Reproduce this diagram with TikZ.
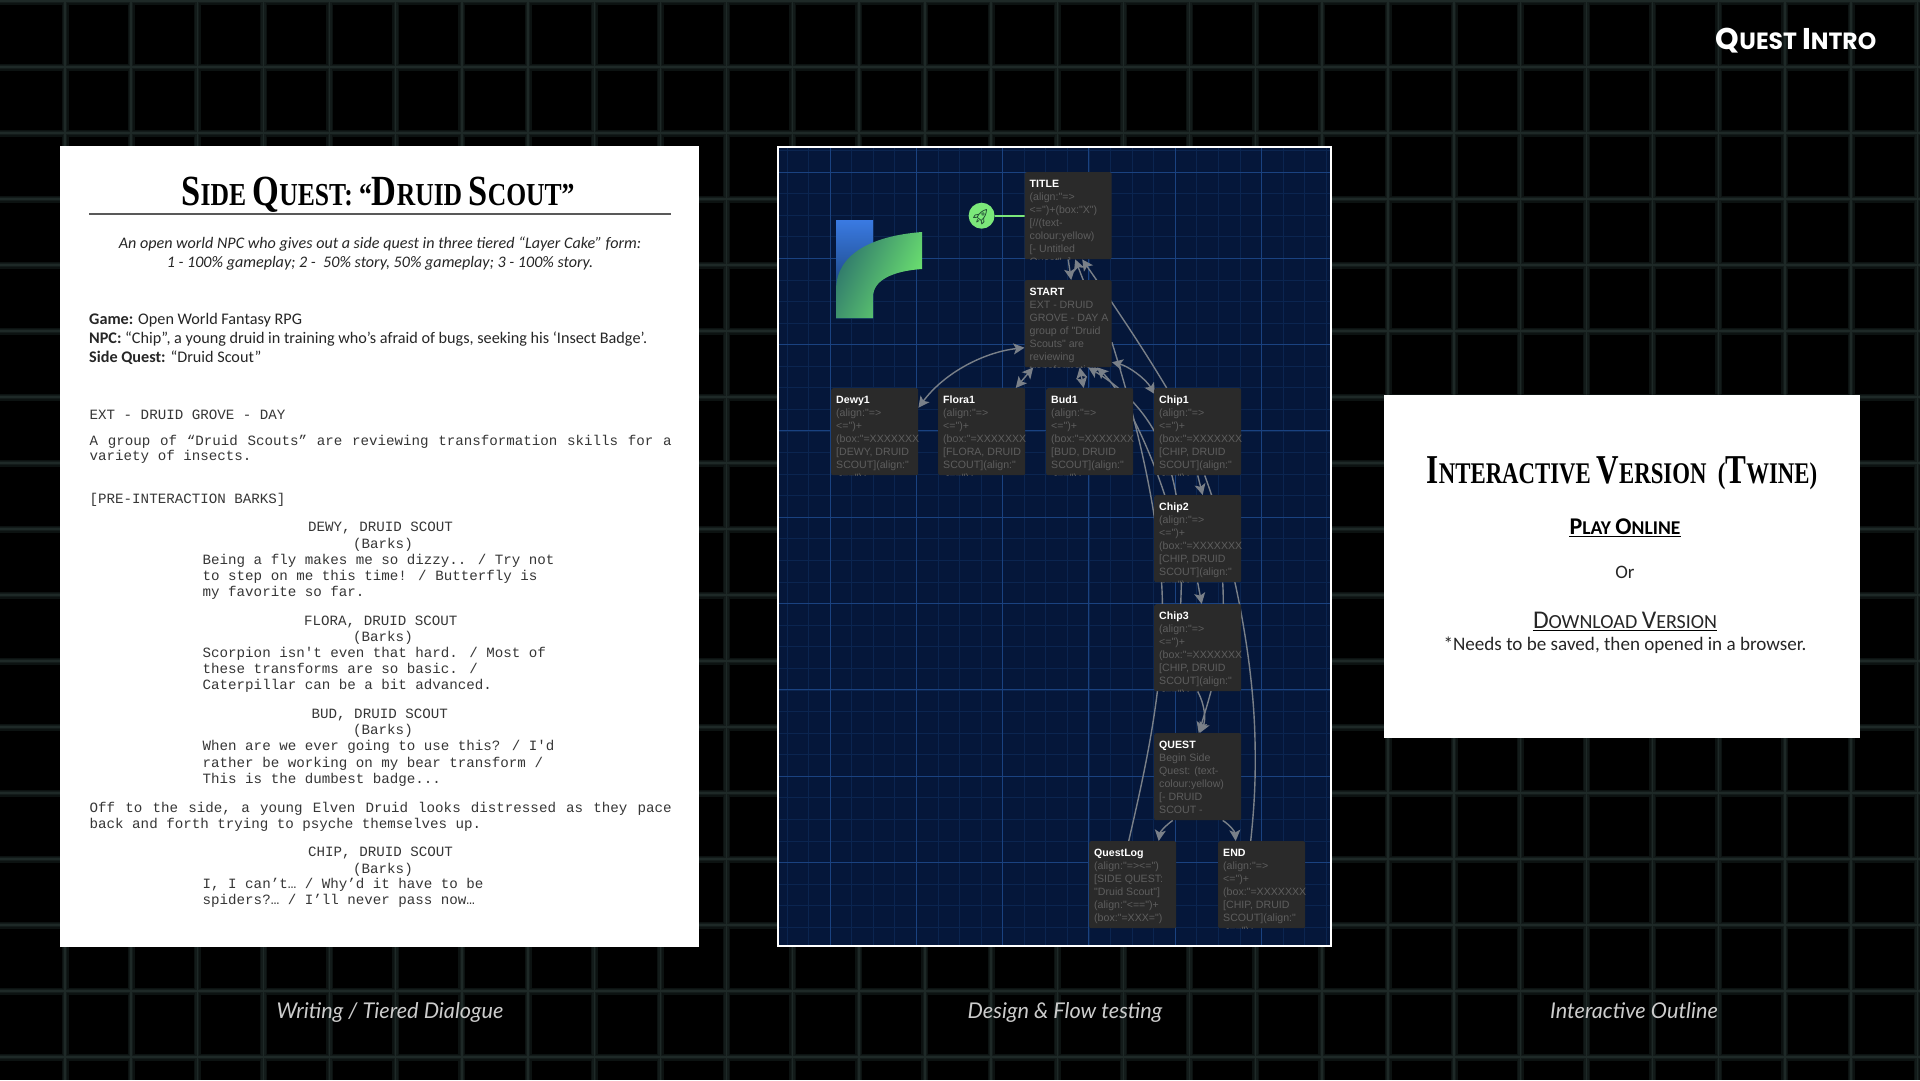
\documentclass[tikz,border=0pt]{standalone}
\usepackage{fontspec}
\usepackage{graphicx}
\usetikzlibrary{arrows.meta,calc,backgrounds}
\newfontfamily\monof{Liberation Mono}
\newfontfamily\uif{Liberation Sans}
\newfontfamily\serf{Liberation Serif}
\newfontfamily\humf{Carlito}
\newfontfamily\capf{Lato}
\newfontfamily\headf{Poppins}
\definecolor{navy}{HTML}{05173A}
\definecolor{gmajor}{HTML}{1A4280}
\definecolor{gminor}{HTML}{0B2550}
\definecolor{pbox}{HTML}{2A2A2A}
\definecolor{ptext}{HTML}{5E5E5E}
\definecolor{conn}{HTML}{7A8088}
\definecolor{mint}{HTML}{7BE87A}
\definecolor{inkg}{HTML}{363636}
\definecolor{logoA}{HTML}{3A7AE2}
\definecolor{logoB}{HTML}{10325C}
\definecolor{logoC}{HTML}{2E766C}
\definecolor{logoD}{HTML}{70E870}
\definecolor{rocketc}{HTML}{265438}
\definecolor{capc}{HTML}{CCCCCC}
\newcount\lncount
\newcommand\ml[3]{\global\advance\lncount by 1
  \node[monoline] (l\the\lncount) at (#1,#2) {#3};}
\newcommand\mlj[3]{\global\advance\lncount by 1
  \node[monoline] (l\the\lncount) at (#1,#2) {\spaceskip=8.5pt plus 6pt\makebox[582pt][s]{#3}};}
\newcommand\passage[5]{%
  \node[passagebox,anchor=north west] (#1) at (#2,#3) {};
  \begin{scope}
    \clip[rounded corners=2pt] (#1.south west) rectangle (#1.north east);
    \node[passagetext,anchor=north west] (#1t) at ($(#1.north west)+(5,7.5)$)
      {{\color{white}\bfseries #4}\\#5};
  \end{scope}}
\newcommand\pin[3]{($(#1)+(#2,#3)$)}
\newcommand\BC[1]{{\fontsize{43}{43}\selectfont #1}}
\newcommand\BD[1]{{\fontsize{41}{41}\selectfont #1}}
\newcommand\BP[1]{{\fontsize{24}{24}\selectfont #1}}
\newcommand\BQ[1]{{\fontsize{30}{30}\selectfont #1}}
\tikzset{
  monoline/.style={anchor=base west,inner sep=0pt,text=inkg,font=\monof\fontsize{14.18}{16}\selectfont},
  passagebox/.style={fill=pbox,rounded corners=2pt,minimum width=87pt,minimum height=87pt,inner sep=0pt},
  passagetext/.style={inner sep=0pt,align=left,text=ptext,font=\uif\fontsize{10.6}{13}\selectfont},
  flow/.style={draw=conn,line width=1.4pt},
  tip/.style={flow,-{Stealth[length=11pt,width=11pt,inset=2.5pt]}},
  tips/.style={flow,{Stealth[length=11pt,width=11pt,inset=2.5pt]}-{Stealth[length=11pt,width=11pt,inset=2.5pt]}},
  captiontext/.style={anchor=base,inner sep=0pt,text=capc,font=\capf\itshape\fontsize{21.7}{24}\selectfont},
  hum/.style={anchor=base west,inner sep=0pt,text=black!85,font=\humf\fontsize{16.2}{20}\selectfont},
  humc/.style={anchor=base,inner sep=0pt,text=black!85,font=\humf\itshape\fontsize{16.1}{20}\selectfont},
  fancy/.style={anchor=base,inner sep=0pt,text=black,font=\serf\bfseries},
  rk/.style={draw=rocketc,line width=.8pt,line join=round},
}
\pgfdeclarelayer{under}
\pgfsetlayers{under,main}
\begin{document}
\begin{tikzpicture}[x=1pt,y=-1pt]
\useasboundingbox (0,0) rectangle (1920,1080);
\begin{pgfonlayer}{under}
  \fill[black] (0,0) rectangle (1920,1080);
  \foreach \c/\w in {0C1211/7,131B1A/4.2,1E2927/1.4}{
    \definecolor{gl}{HTML}{\c}
    \foreach \k in {0,...,28}{
      \pgfmathsetmacro\gx{65+66.15*\k}
      \draw[gl,line width=\w pt] (\gx,0) -- (\gx,1080);
    }
    \foreach \k in {-1,0,...,15}{
      \pgfmathsetmacro\gy{67+66*\k}
      \draw[gl,line width=\w pt] (0,\gy) -- (1920,\gy);
    }
  }
  % panels
  \fill[white] (60,146) rectangle (699,947);
  \fill[white] (1384,395) rectangle (1860,738);
  \fill[white] (777,146) rectangle (1332,947);
  \fill[navy] (779,148) rectangle (1330,945);
  \begin{scope}
    \clip (779,148) rectangle (1330,945);
    \foreach \k in {-2,...,26}{
      \pgfmathsetmacro\mx{830+21.575*\k}
      \draw[gminor,line width=.6pt] (\mx,148) -- (\mx,945);
    }
    \foreach \k in {-1,...,36}{
      \pgfmathsetmacro\my{172+21.575*\k}
      \draw[gminor,line width=.6pt] (779,\my) -- (1330,\my);
    }
    \foreach \k in {-1,...,6}{
      \pgfmathsetmacro\mx{830+86.3*\k}
      \draw[gmajor,line width=1pt] (\mx,148) -- (\mx,945);
    }
    \foreach \k in {0,...,9}{
      \pgfmathsetmacro\my{172+86.3*\k}
      \draw[gmajor,line width=1pt] (779,\my) -- (1330,\my);
    }
    % logo
    \shade[top color=logoA,bottom color=logoB] (836,220) rectangle (873,318);
    \shade[left color=logoC,right color=logoD,shading angle=65]
      (836,318) -- (836,290) .. controls (836,255) and (870,236) .. (922,232) -- (922,269) .. controls (893,271) and (873,280) .. (873,297) -- (873,318) -- cycle;
  \end{scope}
\end{pgfonlayer}

% ---------- left sheet
\node[fancy,font=\serf\bfseries\fontsize{32}{36}\selectfont] (sqtitle) at (378,205) {\scalebox{.8}[1]{\BC{S}IDE \BC{Q}UEST: “\BC{D}RUID \BC{S}COUT”}};
\coordinate (rl) at (89,214);
\coordinate (rr) at (671,214);
\draw[black!65,line width=1.4pt] (rl) -- (rr);
\node[humc] (sub1) at (380,248) {An open world NPC who gives out a side quest in three tiered “Layer Cake” form:};
\node[humc] (sub2) at (380,267) {1 - 100\% gameplay; 2 -\ \ 50\% story, 50\% gameplay; 3 - 100\% story.};
\node[hum] (g1) at (89,324) {\textbf{Game:} Open World Fantasy RPG};
\node[hum] (g2) at (89,343) {\textbf{NPC:} “Chip”, a young druid in training who’s afraid of bugs, seeking his ‘Insect Badge’.};
\node[hum] (g3) at (89,362) {\textbf{Side Quest:} “Druid Scout”};
\ml{89.5}{419}{EXT - DRUID GROVE - DAY}
\mlj{89.5}{445}{A group of “Druid Scouts” are reviewing transformation skills for a}
\ml{89.5}{460}{variety of insects.}
\ml{89.5}{503}{[PRE-INTERACTION BARKS]}
\ml{308}{531}{DEWY, DRUID SCOUT}
\ml{353}{548}{(Barks)}
\ml{202.5}{564}{Being a fly makes me so dizzy.. / Try not}
\ml{202.5}{580}{to step on me this time! / Butterfly is}
\ml{202.5}{596}{my favorite so far.}
\ml{304}{625}{FLORA, DRUID SCOUT}
\ml{353}{641}{(Barks)}
\ml{202.5}{657}{Scorpion isn't even that hard. / Most of}
\ml{202.5}{673}{these transforms are so basic. /}
\ml{202.5}{689}{Caterpillar can be a bit advanced.}
\ml{311.5}{718}{BUD, DRUID SCOUT}
\ml{353}{734}{(Barks)}
\ml{202.5}{750}{When are we ever going to use this? / I'd}
\ml{202.5}{767}{rather be working on my bear transform /}
\ml{202.5}{783}{This is the dumbest badge...}
\mlj{89.5}{812}{Off to the side, a young Elven Druid looks distressed as they pace}
\ml{89.5}{828}{back and forth trying to psyche themselves up.}
\ml{308}{856}{CHIP, DRUID SCOUT}
\ml{353}{873}{(Barks)}
\ml{202.5}{888}{I, I can’t… / Why’d it have to be}
\ml{202.5}{904}{spiders?… / I’ll never pass now…}

% ---------- passages
\passage{TITLE}{1024.5}{172}{TITLE}{(align:"=>\\<=")+(box:"X")\\{}[//(text-\\colour:yellow)\\{}[- Untitled\\Quest" -]}
\passage{START}{1024.5}{280}{START}{EXT - DRUID\\GROVE - DAY A\\group of "Druid\\Scouts" are\\reviewing\\transformation}
\passage{Dewy}{831}{388}{Dewy1}{(align:"=>\\<=")+\\(box:"=XXXXXXX\\{}[DEWY, DRUID\\SCOUT](align:"\\<==")+}
\passage{Flora}{938}{388}{Flora1}{(align:"=>\\<=")+\\(box:"=XXXXXXX\\{}[FLORA, DRUID\\SCOUT](align:"\\<==")+}
\passage{Bud}{1046}{388}{Bud1}{(align:"=>\\<=")+\\(box:"=XXXXXXX\\{}[BUD, DRUID\\SCOUT](align:"\\<==")+}
\passage{ChipA}{1154}{388}{Chip1}{(align:"=>\\<=")+\\(box:"=XXXXXXX\\{}[CHIP, DRUID\\SCOUT](align:"\\<==")+}
\passage{ChipB}{1154}{495}{Chip2}{(align:"=>\\<=")+\\(box:"=XXXXXXX\\{}[CHIP, DRUID\\SCOUT](align:"\\<==")+}
\passage{ChipC}{1154}{604}{Chip3}{(align:"=>\\<=")+\\(box:"=XXXXXXX\\{}[CHIP, DRUID\\SCOUT](align:"\\<==")+}
\passage{QUEST}{1154}{733}{QUEST}{Begin Side\\Quest: (text-\\colour:yellow)\\{}[- DRUID\\SCOUT -}
\passage{QLog}{1089}{841}{QuestLog}{(align:"=><=")\\{}[SIDE QUEST:\\"Druid Scout"]\\(align:"<==")+\\(box:"=XXX=")}
\passage{PEnd}{1218}{841}{END}{(align:"=>\\<=")+\\(box:"=XXXXXXX\\{}[CHIP, DRUID\\SCOUT](align:"\\<==")+}

\node[circle,fill=mint,minimum size=26pt,inner sep=0pt] (startmark) at (981.6,215.7) {};
\begin{scope}[shift={(startmark.center)},rotate=-38]
  \draw[rk] (-2.6,4) -- (2.6,4) .. controls (3.8,-1) and (2.2,-5) .. (0,-8) .. controls (-2.2,-5) and (-3.8,-1) .. (-2.6,4) -- cycle;
  \draw[rk] (-2.9,.5) -- (-5.6,3.4) -- (-5.2,6.4) -- (-2.6,4);
  \draw[rk] (2.9,.5) -- (5.6,3.4) -- (5.2,6.4) -- (2.6,4);
  \draw[rk] (0,-2.2) circle (1.4pt);
  \draw[rk] (-1,5.4) -- (0,8) -- (1,5.4);
\end{scope}

% ---------- connectors
\begin{pgfonlayer}{under}
  \draw[mint,line width=1.6pt] (startmark) -- (TITLE);
  \draw[tip] (TITLE.south) -- \pin{START.north}{3}{0};
  \draw[tip] \pin{START.north}{15}{0} -- \pin{TITLE.south}{7}{0};
  \draw[tip] \pin{ChipA.north}{-31}{0} .. controls (1135,335) and (1100,285) .. \pin{TITLE.south}{14}{0};
  \draw[tips] \pin{START.west}{0}{24} .. controls (985,352) and (945,372) .. \pin{Dewy.east}{0}{-24};
  \draw[tips] \pin{START.south}{-35}{0} -- \pin{Flora.north}{34}{0};
  \draw[tips] \pin{START.south}{11.5}{0} -- \pin{Bud.north}{-6}{0};
  \draw[tip] \pin{ChipC.north}{-17}{0} .. controls (1185,500) and (1175,420) .. \pin{START.south}{20}{0};
  \draw[tip] \pin{ChipB.north}{-33}{0} .. controls (1150,450) and (1125,395) .. \pin{START.south}{29}{0};
  \draw[flow] \pin{START.east}{0}{18.5} .. controls (1130,400) and (1158,500) .. (1162,590) .. controls (1166,680) and (1145,770) .. \pin{QLog.north}{-4}{0};
  \draw[flow] \pin{ChipA.south}{7}{0} .. controls (1225,530) and (1253,640) .. (1255,740) .. controls (1256,780) and (1254,810) .. \pin{PEnd.north}{-11}{0};
  \draw[tip] (ChipA.south) -- \pin{ChipB.north}{5}{0};
  \draw[tip] (ChipB.south) -- \pin{ChipC.north}{4}{0};
  \draw[tip] (ChipC.south) .. controls (1205,705) and (1206,720) .. \pin{QUEST.north}{2}{0};
  \draw[tip] \pin{ChipB.south}{25}{0} .. controls (1226,640) and (1215,680) .. \pin{QUEST.north}{1}{0};
  \draw[tip] \pin{QUEST.south}{-25}{0} .. controls (1165,826) and (1160,832) .. \pin{QLog.north}{26}{0};
  \draw[tip] \pin{QUEST.south}{25}{0} .. controls (1230,825) and (1235,832) .. \pin{PEnd.north}{-26}{0};
  \draw[tips] \pin{START.east}{0}{38.5} .. controls (1128,366) and (1145,378) .. \pin{ChipA.west}{1}{-37.5};
\end{pgfonlayer}

% ---------- right sheet
\node[fancy,font=\serf\bfseries\fontsize{30}{34}\selectfont] (ivtitle) at (1622,483) {\scalebox{.76}[1]{\BD{I}NTERACTIVE \BD{V}ERSION\ \ (\BD{T}WINE)}};
\node[anchor=base,inner sep=0pt,font=\humf\bfseries\fontsize{19.5}{22}\selectfont,text=black] (play) at (1625,534) {\BP{P}LAY \BP{O}NLINE};
\draw[black,line width=1pt] \pin{play.south west}{0}{2} -- \pin{play.south east}{0}{2};
\node[anchor=base,inner sep=0pt,font=\humf\fontsize{19}{22}\selectfont,text=black!85] (orword) at (1625,578) {Or};
\node[anchor=base,inner sep=0pt,font=\humf\fontsize{20}{22}\selectfont,text=black!85] (dl) at (1625,628) {{\fontsize{25.5}{25.5}\selectfont D}OWNLOAD {\fontsize{25.5}{25.5}\selectfont V}ERSION};
\draw[black,line width=.9pt] \pin{dl.south west}{0}{2} -- \pin{dl.south east}{0}{2};
\node[anchor=base,inner sep=0pt,font=\humf\fontsize{19.1}{22}\selectfont,text=black!85] (needs) at (1625,650) {*Needs to be saved, then opened in a browser.};

% ---------- captions
\node[captiontext] (c1) at (390,1018) {Writing / Tiered Dialogue};
\node[captiontext] (c2) at (1065,1018) {Design \& Flow testing};
\node[captiontext] (c3) at (1634,1018) {Interactive Outline};
\node[anchor=base,inner sep=0pt,text=white,font=\headf\bfseries\fontsize{23.5}{28}\selectfont] (qi) at (1796,49) {\BQ{Q}UEST \BQ{I}NTRO};
\end{tikzpicture}
\end{document}
